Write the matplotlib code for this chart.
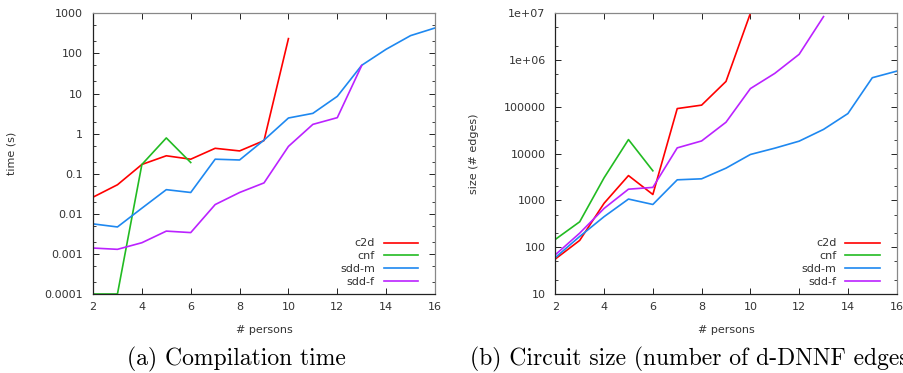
import matplotlib
matplotlib.use("Agg")
import matplotlib.pyplot as plt
from matplotlib.ticker import LogLocator, FixedLocator, NullFormatter

# nombre de personnes
persons = [2, 3, 4, 5, 6, 7, 8, 9, 10, 11, 12, 13, 14, 15, 16]

# (a) temps de compilation (s)
time_c2d = [0.026, 0.053, 0.17, 0.28, 0.23, 0.43, 0.37, 0.67, 234]
time_cnf = [0.0001, 0.0001, 0.17, 0.78, 0.19]
time_sddm = [0.0056, 0.0047, 0.0138, 0.040, 0.034, 0.23, 0.22, 0.69, 2.45,
             3.2, 8.5, 50.6, 127, 278, 431]
time_sddf = [0.0014, 0.0013, 0.0019, 0.0037, 0.0034, 0.017, 0.034, 0.059,
             0.48, 1.7, 2.5, 50]

# (b) taille du circuit (# arêtes)
size_c2d = [56, 140, 870, 3400, 1340, 92000, 109000, 350000, 1.0e7]
size_cnf = [147, 350, 3050, 20000, 4300]
size_sddm = [60, 170, 450, 1070, 820, 2760, 2900, 4900, 9600, 13100, 18500,
             33000, 72000, 420000, 580000]
size_sddf = [69, 200, 675, 1740, 1900, 13300, 18700, 47000, 246000, 520000,
             1.33e6, 8.5e6]

labels = ["c2d", "cnf", "sdd-m", "sdd-f"]
colors = ["#ff0000", "#22bb22", "#1e88f0", "#bb22ff"]

fig = plt.figure(figsize=(9.04, 3.73), dpi=100)


def tracer(ax, series, ylim, yticks, ylabels, ylabel, ylabelpad):
    for serie, label, col in zip(series, labels, colors):
        ax.plot(persons[:len(serie)], serie, color=col, lw=1.2, label=label)
    ax.set_yscale("log")
    ax.set_xlim(2, 16)
    ax.set_ylim(*ylim)
    ax.xaxis.set_major_locator(FixedLocator(range(2, 17, 2)))
    ax.yaxis.set_major_locator(FixedLocator(yticks))
    ax.set_yticklabels(ylabels)
    ax.yaxis.set_minor_locator(LogLocator(base=10, subs=(2, 5)))
    ax.yaxis.set_minor_formatter(NullFormatter())
    ax.tick_params(which="both", direction="in", top=True, right=True,
                   labelsize=8, labelcolor="#333333", color="#222222")
    ax.tick_params(which="major", length=4, width=0.7)
    ax.tick_params(which="minor", length=2, width=0.6)
    ax.tick_params(axis="x", pad=6)
    ax.tick_params(axis="y", pad=7)
    for s in ["top", "right"]:
        ax.spines[s].set_color("#888888")
    for s in ["left", "bottom"]:
        ax.spines[s].set_color("#222222")
    for s in ax.spines.values():
        s.set_linewidth(0.9)
    ax.set_xlabel("# persons", fontsize=8, color="#333333", labelpad=9)
    ax.set_ylabel(ylabel, fontsize=8, color="#333333", labelpad=ylabelpad)
    ax.legend(loc="lower right", bbox_to_anchor=(0.98, -0.01), frameon=False,
              markerfirst=False, fontsize=8, handlelength=3.1,
              labelspacing=0.25, handletextpad=0.8,
              labelcolor="#333333")


ax1 = fig.add_axes([0.1029, 0.2118, 0.3783, 0.7525])
tracer(ax1, [time_c2d, time_cnf, time_sddm, time_sddf], (0.0001, 1000),
       [0.0001, 0.001, 0.01, 0.1, 1, 10, 100, 1000],
       ["0.0001", "0.001", "0.01", "0.1", "1", "10", "100", "1000"],
       "time (s)", 20)

ax2 = fig.add_axes([0.6143, 0.2118, 0.3776, 0.7525])
tracer(ax2, [size_c2d, size_cnf, size_sddm, size_sddf], (10, 1e7),
       [10, 100, 1000, 10000, 100000, 1e6, 1e7],
       ["10", "100", "1000", "10000", "100000", "1e+06", "1e+07"],
       "size (# edges)", 18)

fig.text(0.261, 0.037, "(a) Compilation time", family="cmr10",
         fontsize=17, ha="center", va="center")
fig.text(0.52, 0.037, "(b) Circuit size (number of d-DNNF edges)",
         family="cmr10", fontsize=17, ha="left", va="center")

fig.savefig("out.png", dpi=100)
